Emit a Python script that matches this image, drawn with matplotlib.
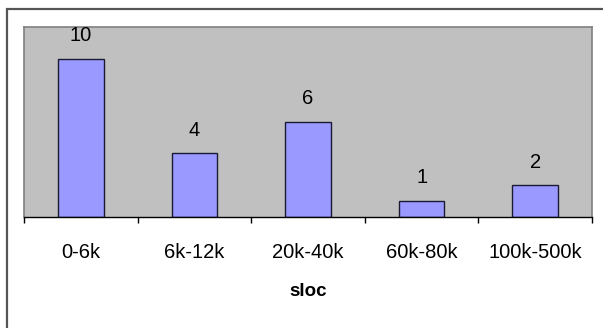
import matplotlib
matplotlib.use("Agg")
import matplotlib.pyplot as plt
from matplotlib.patches import Rectangle

categories = ["0-6k", "6k-12k", "20k-40k", "60k-80k", "100k-500k"]
counts = [10, 4, 6, 1, 2]

plt.rcParams['font.family'] = ['Liberation Sans', 'DejaVu Sans']

W, H = 603, 328
fig = plt.figure(figsize=(W / 100, H / 100), dpi=100)

# outer chart frame, runs off the right and bottom edges
fig.patches.append(Rectangle((6.5 / W, -0.1), 1.2, 1.1 - 9 / H, transform=fig.transFigure,
                             fill=False, edgecolor="#555555", linewidth=1.6, zorder=0))

left, right, top, bottom = 24, 592, 27, 216.5
ax = fig.add_axes([left / W, 1 - bottom / H, (right - left) / W, (bottom - top) / H])
ax.set_facecolor("#C0C0C0")

x = range(len(categories))
bars = ax.bar(x, counts, width=0.4, color="#9999FF", edgecolor="#1a1a33", linewidth=1.0)
for b, v in zip(bars, counts):
    ax.annotate(str(v), (b.get_x() + b.get_width() / 2, v), xytext=(0, 16.5),
                textcoords="offset points", ha="center", va="center", fontsize=14.5)

ax.set_xlim(-0.5, len(categories) - 0.5)
ax.set_ylim(0, 12)
ax.set_yticks([])
ax.set_xticks([i - 0.5 for i in range(len(categories) + 1)], minor=False)
ax.set_xticklabels([])
ax.set_xticks(list(x), minor=True)
ax.set_xticklabels(categories, minor=True, fontsize=14.5)
ax.tick_params(axis="x", which="major", direction="out", length=4.5, width=1.0, color="black")
ax.tick_params(axis="x", which="minor", length=0, pad=19)

for s in ["top", "left", "right"]:
    ax.spines[s].set_color("#808080")
    ax.spines[s].set_linewidth(1.2)
ax.spines["bottom"].set_color("black")
ax.spines["bottom"].set_linewidth(1.0)

fig.text((left + right) / 2 / W, 1 - 291 / H, "sloc", ha="center", va="center",
         fontsize=13.5, fontweight="bold")

fig.savefig("out.png", dpi=100)
